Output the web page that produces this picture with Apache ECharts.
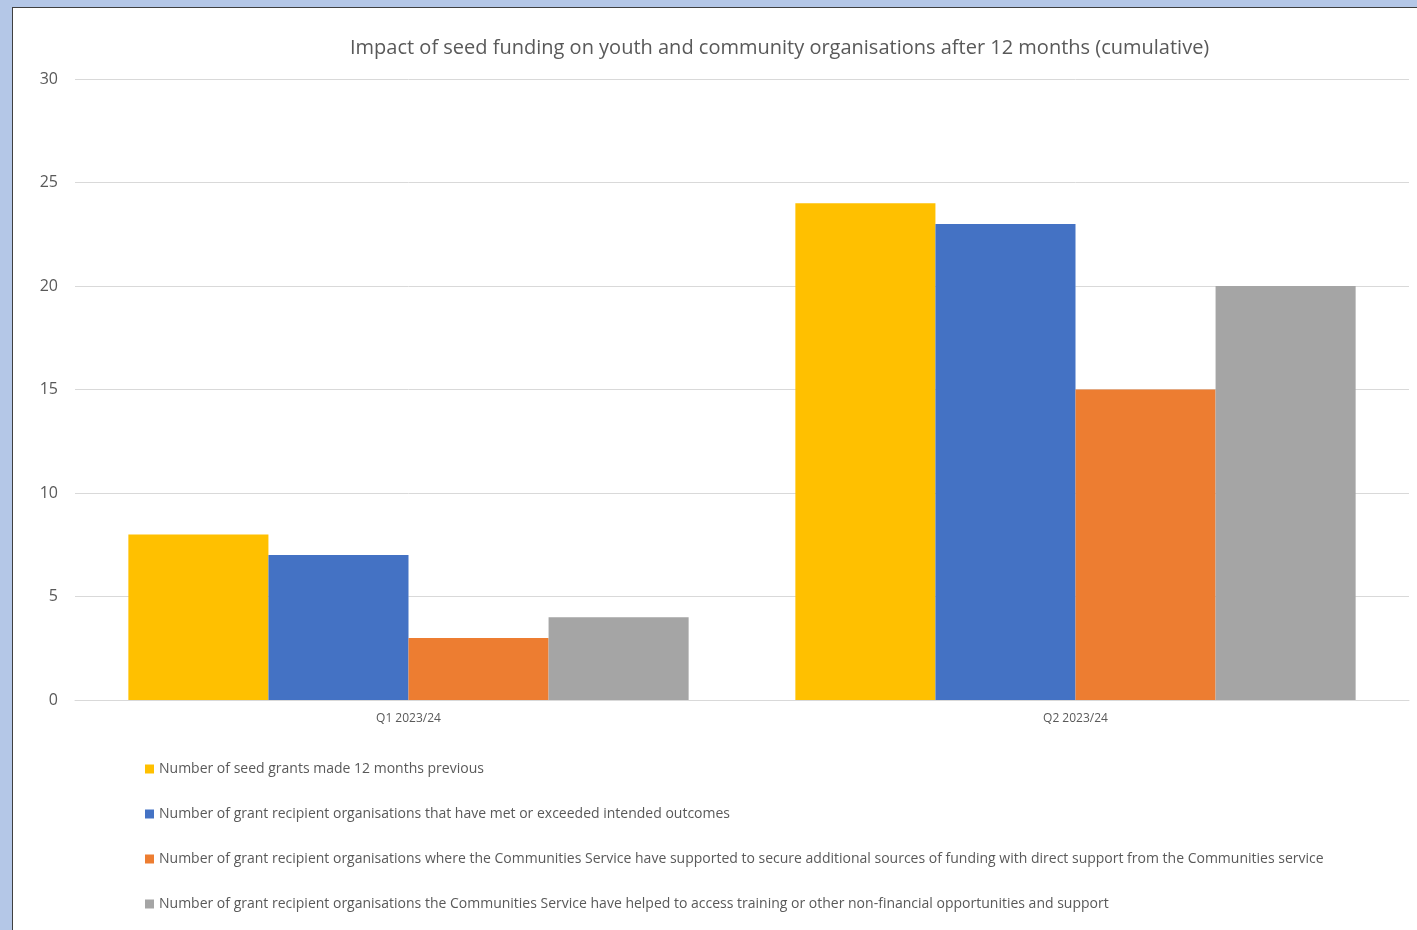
<!DOCTYPE html>
<html>
<head>
<meta charset="utf-8">
<script src="https://cdn.jsdelivr.net/npm/echarts@6/dist/echarts.min.js"></script>
<style>
  html, body { margin: 0; padding: 0; background: #b4c7e7; }
  #main {
    position: absolute; left: 12px; top: 7px;
    width: 1404px; height: 922px;
    background: #fff; border-left: 1px solid #404040; border-top: 1px solid #404040;
  }
</style>
</head>
<body>
<div id="main"></div>
<script>
var categories = ['Q1 2023/24', 'Q2 2023/24'];
var seedGrants = [8, 24];
var metOutcomes = [7, 23];
var extraFunding = [3, 15];
var trainingAccess = [4, 20];
var seriesNames = [
    'Number of seed grants made 12 months previous',
    'Number of grant recipient organisations that have met or exceeded intended outcomes',
    'Number of grant recipient organisations where the Communities Service have supported to secure additional sources of funding with direct support from the Communities service',
    'Number of grant recipient organisations the Communities Service have helped to access training or other non-financial opportunities and support'
];
var colors = ['#ffc000', '#4472c4', '#ed7d31', '#a5a5a5'];

var chartDom = document.getElementById('main');
var myChart = echarts.init(chartDom);
var option;

var font = 'Open Sans, sans-serif';

option = {
    color: colors,
    textStyle: { fontFamily: font },
    title: {
        text: 'Impact of seed funding on youth and community organisations after 12 months (cumulative)',
        left: 332,
        top: 25,
        textStyle: { fontSize: 20, fontWeight: 'normal', color: '#595959', fontFamily: font }
    },
    legend: {
        orient: 'vertical',
        left: 127,
        top: 748,
        itemWidth: 9,
        itemHeight: 9,
        itemGap: 29,
        icon: 'rect',
        textStyle: { fontSize: 14, color: '#595959', lineHeight: 16, fontFamily: font },
        data: seriesNames
    },
    grid: {
        left: 62,
        right: 8,
        top: 71,
        bottom: 230
    },
    xAxis: {
        type: 'category',
        data: categories,
        axisLine: { lineStyle: { color: '#d9d9d9' } },
        axisTick: { show: false },
        axisLabel: { color: '#595959', fontSize: 12, margin: 13 }
    },
    yAxis: {
        type: 'value',
        min: 0,
        max: 30,
        interval: 5,
        splitLine: { lineStyle: { color: '#d9d9d9' } },
        axisLabel: { color: '#595959', fontSize: 16, margin: 17 }
    },
    series: [
        { name: seriesNames[0], type: 'bar', barGap: '0%', barCategoryGap: '16%', data: seedGrants },
        { name: seriesNames[1], type: 'bar', barGap: '0%', barCategoryGap: '16%', data: metOutcomes },
        { name: seriesNames[2], type: 'bar', barGap: '0%', barCategoryGap: '16%', data: extraFunding },
        { name: seriesNames[3], type: 'bar', barGap: '0%', barCategoryGap: '16%', data: trainingAccess }
    ]
};

option && myChart.setOption(option);
</script>
</body>
</html>
